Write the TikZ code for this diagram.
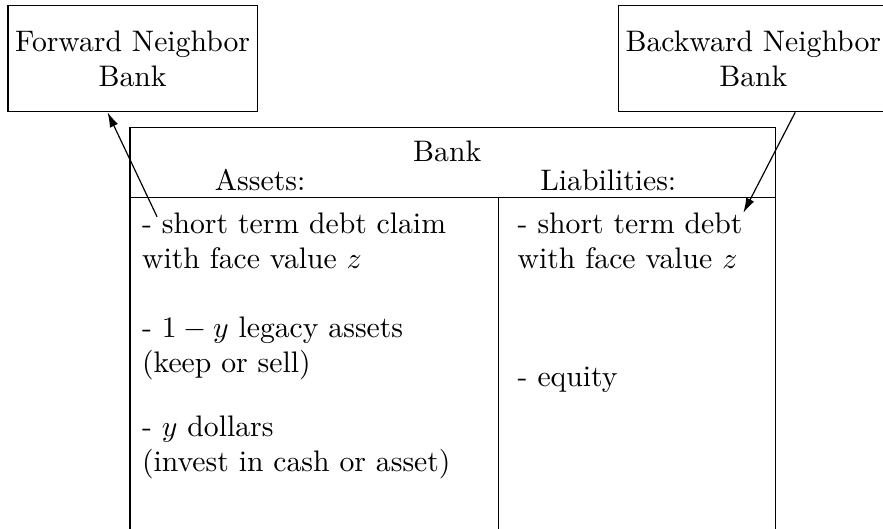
\documentclass[tikz,border=0pt]{standalone}
\usepackage{amsmath}
\usepackage{tikz}
\usetikzlibrary{arrows.meta,positioning}

\begin{document}
\begin{tikzpicture}[inner sep=0pt,
  nbrbox/.style={draw=black,align=center,minimum height=1.255cm},
  item/.style={anchor=base west,align=left},
  head/.style={anchor=base},
  link/.style={-{Latex[length=5pt,width=3pt]}}]
\clip (0,0) rectangle (10.45,6.26);
\node[nbrbox,minimum width=2.948cm] (fwd) at (1.569,5.565) {Forward Neighbor\\Bank};
\node[nbrbox,minimum width=3.197cm] (bwd) at (8.915,5.565) {Backward Neighbor\\Bank};

\node[draw=black,anchor=north,minimum width=7.637cm,minimum height=5.2cm] (bank) at (5.358,4.76) {};
\draw (bank.west |- 0,3.919) -- (bank.east |- 0,3.919);
\draw (5.896,3.919) -- (5.896,3.919 |- bank.south);

\node[head] (banktitle) at (5.292,4.345) {Bank};
\node[head] (assets) at (3.078,4.002) {Assets:};
\node[head] (liab) at (7.199,4.002) {Liabilities:};

% base anchor sits on the last line of each item
\node[item] (claim) at (1.675,3.079) {- short term debt claim\\with face value $z$};
\node[item] (legacy) at (1.675,1.847) {- $1-y$ legacy assets\\(keep or sell)};
\node[item] (dollars) at (1.675,0.675) {- $y$ dollars\\(invest in cash or asset)};
\node[item] (debt) at (6.12,3.079) {- short term debt\\with face value $z$};
\node[item] (equity) at (6.12,1.681) {- equity};

\coordinate (claimtail) at (1.859,3.694);
\coordinate (debttip) at (8.797,3.741);
\path (claimtail) edge [link] (fwd.245);
\path (bwd.-52) edge [link] (debttip);

\end{tikzpicture}
\end{document}
